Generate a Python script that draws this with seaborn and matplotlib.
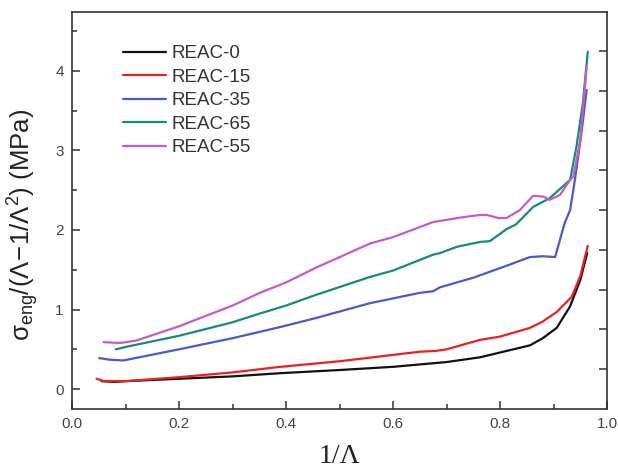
import numpy as np
import pandas as pd
import matplotlib
matplotlib.use("Agg")
import matplotlib.pyplot as plt
import seaborn as sns

# Reduced stress vs. inverse stretch ratio (Mooney–Rivlin plot)
reac0_x = [0.055, 0.08, 0.10, 0.20, 0.30, 0.389, 0.50, 0.60, 0.70, 0.763, 0.80, 0.856, 0.88, 0.906, 0.931, 0.95, 0.963]
reac0_y = [0.10, 0.09, 0.10, 0.13, 0.16, 0.20, 0.24, 0.28, 0.34, 0.40, 0.46, 0.55, 0.64, 0.77, 1.04, 1.37, 1.71]

reac15_x = [0.046, 0.06, 0.10, 0.20, 0.30, 0.389, 0.50, 0.60, 0.65, 0.68, 0.70, 0.763, 0.80, 0.856, 0.88, 0.906, 0.934, 0.95, 0.964]
reac15_y = [0.13, 0.10, 0.10, 0.15, 0.21, 0.28, 0.35, 0.43, 0.47, 0.48, 0.50, 0.62, 0.66, 0.77, 0.85, 0.97, 1.16, 1.42, 1.80]

reac35_x = [0.051, 0.07, 0.096, 0.20, 0.30, 0.351, 0.389, 0.454, 0.557, 0.60, 0.65, 0.675, 0.688, 0.75, 0.812, 0.856, 0.88, 0.903, 0.921, 0.931, 0.94, 0.953, 0.962]
reac35_y = [0.39, 0.37, 0.36, 0.50, 0.64, 0.72, 0.78, 0.89, 1.08, 1.14, 1.21, 1.23, 1.28, 1.40, 1.55, 1.66, 1.67, 1.66, 2.09, 2.25, 2.63, 3.26, 3.76]

reac65_x = [0.082, 0.10, 0.20, 0.30, 0.351, 0.40, 0.454, 0.557, 0.60, 0.675, 0.688, 0.72, 0.763, 0.781, 0.812, 0.83, 0.862, 0.893, 0.931, 0.943, 0.955, 0.964]
reac65_y = [0.50, 0.53, 0.67, 0.84, 0.95, 1.05, 1.18, 1.41, 1.49, 1.69, 1.71, 1.79, 1.85, 1.86, 2.01, 2.07, 2.29, 2.40, 2.63, 3.05, 3.60, 4.24]

reac55_x = [0.059, 0.09, 0.12, 0.20, 0.30, 0.351, 0.40, 0.454, 0.557, 0.60, 0.675, 0.72, 0.763, 0.775, 0.797, 0.812, 0.837, 0.862, 0.881, 0.893, 0.912, 0.931, 0.937, 0.95, 0.962]
reac55_y = [0.59, 0.58, 0.61, 0.79, 1.05, 1.21, 1.34, 1.52, 1.83, 1.91, 2.10, 2.15, 2.19, 2.19, 2.15, 2.15, 2.25, 2.43, 2.42, 2.38, 2.44, 2.63, 2.67, 3.13, 4.05]

samples = ["REAC-0", "REAC-15", "REAC-35", "REAC-65", "REAC-55"]
series_x = [reac0_x, reac15_x, reac35_x, reac65_x, reac55_x]
series_y = [reac0_y, reac15_y, reac35_y, reac65_y, reac55_y]
colors = ["#111111", "#f01e23", "#4a5ac8", "#178a80", "#c55bc6"]

frames = []
for name, xs, ys in zip(samples, series_x, series_y):
    frames.append(pd.DataFrame({"inv_stretch": xs, "reduced_stress": ys, "sample": name}))
df = pd.concat(frames, ignore_index=True)

sns.set_theme(style="ticks")
plt.rcParams["font.family"] = ["Liberation Sans", "DejaVu Sans"]
plt.rcParams["mathtext.fontset"] = "custom"
plt.rcParams["mathtext.rm"] = "Liberation Sans"
plt.rcParams["mathtext.it"] = "Liberation Sans:italic"

fig = plt.figure(figsize=(6.18, 4.74), dpi=100)
ax = fig.add_axes([72 / 618, 1 - 409 / 474, 535 / 618, 397 / 474])

sns.lineplot(data=df, x="inv_stretch", y="reduced_stress", hue="sample",
             hue_order=samples, palette=dict(zip(samples, colors)),
             estimator=None, sort=False, units="sample", linewidth=1.6, ax=ax)

ax.set_xlim(0.0, 1.0)
ax.set_ylim(-0.25, 4.74)
ax.set_xticks(np.arange(0, 1.01, 0.2))
ax.set_xticks(np.arange(0.1, 1.0, 0.2), minor=True)
ax.set_yticks(np.arange(0, 5, 1))
ax.set_yticks(np.arange(0.5, 4.6, 1), minor=True)
ax.xaxis.set_major_formatter(matplotlib.ticker.FormatStrFormatter("%.1f"))

spine_c = "#333333"
for s in ax.spines.values():
    s.set_linewidth(1.2)
    s.set_color(spine_c)
ax.tick_params(which="major", direction="in", length=6, width=1.1, color=spine_c,
               labelsize=11, labelcolor="#444444", pad=6)
ax.tick_params(which="minor", direction="in", length=3.5, width=1.1, color=spine_c)
ax.tick_params(axis="x", which="both", top=False)
ax.tick_params(axis="y", which="both", right=False)

# right-hand axis ticks (offset scale, no labels)
axr = ax.twinx()
axr.set_ylim(ax.get_ylim())
axr.set_yticks(np.arange(0.25, 4.5, 0.5))
axr.set_yticklabels([])
axr.tick_params(axis="y", direction="in", length=6, width=1.1, color=spine_c)
for s in axr.spines.values():
    s.set_visible(False)

ax.set_xlabel("1/Λ", family="Liberation Serif", fontsize=20, color="#222222", labelpad=9)
ax.set_ylabel(r"$\mathrm{\sigma_{eng}/(\Lambda\!-\!1/\Lambda^2)}$ (MPa)", fontsize=18.5,
              color="#222222")
ax.yaxis.set_label_coords(-0.058, 0.463)

handles, labels = ax.get_legend_handles_labels()
ax.legend(handles, labels, loc="upper left", bbox_to_anchor=(123 / 618, 1 - 45 / 474),
          bbox_transform=fig.transFigure, frameon=False, fontsize=13.5,
          handlelength=2.3, handletextpad=0.3, labelspacing=0.34,
          borderpad=0, borderaxespad=0, labelcolor="#333333")

fig.savefig("out.png", dpi=100)
